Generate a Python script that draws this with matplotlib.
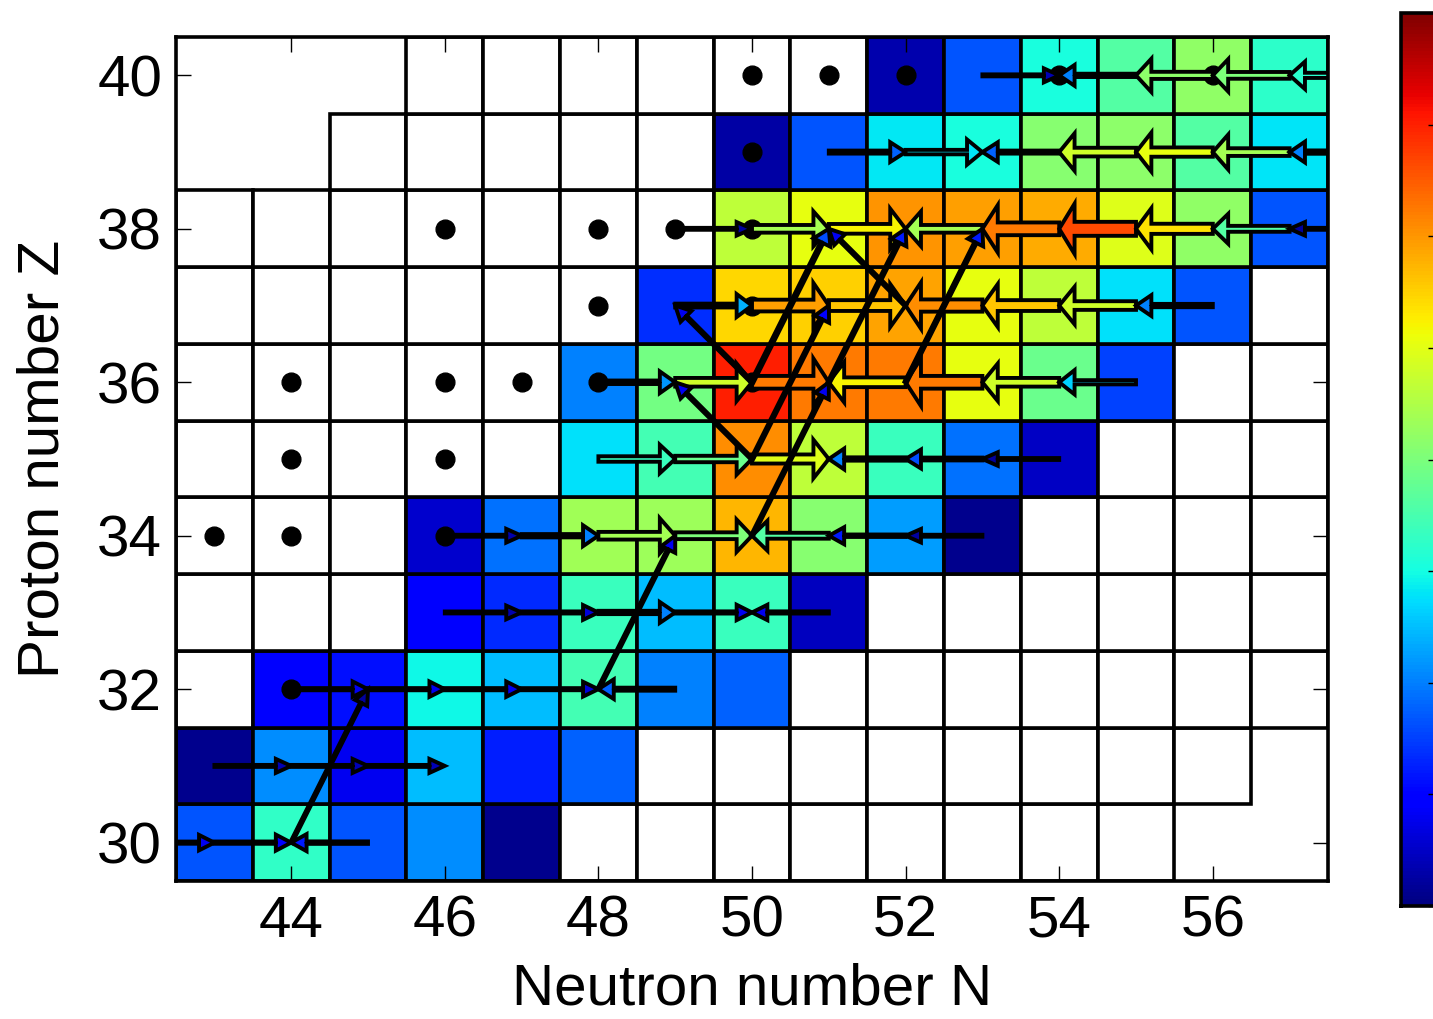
import numpy as np
import matplotlib
matplotlib.use("Agg")
import matplotlib.pyplot as plt
from matplotlib.patches import Rectangle
from matplotlib.colors import Normalize

plt.rcParams['font.family'] = ['Liberation Sans', 'DejaVu Sans']

# nuclide chart: N = 43..57, Z = 30..40
n_axis = list(range(43, 58))
z_axis = list(range(30, 41))
n_first = [43, 43, 43, 43, 43, 43, 43, 43, 43, 45, 46]
n_last = [55, 56, 57, 57, 57, 57, 57, 57, 57, 57, 57]

W = None  # cell in network but no abundance -> white
cell_vals = {
    30: [0.21, 0.41, 0.21, 0.265, 0.015, W, W, W, W, W, W, W, W, W, W],
    31: [0.015, 0.265, 0.10, 0.31, 0.155, 0.22, W, W, W, W, W, W, W, W, W],
    32: [W, 0.115, 0.14, 0.37, 0.31, 0.43, 0.25, 0.22, W, W, W, W, W, W, W],
    33: [W, W, W, 0.12, 0.165, 0.42, 0.31, 0.42, 0.055, W, W, W, W, W, W],
    34: [W, W, W, 0.07, 0.235, 0.545, 0.54, 0.716, 0.515, 0.28, 0.015, W, W, W, W],
    35: [W, W, W, W, W, 0.345, 0.43, 0.76, 0.58, 0.42, 0.235, 0.06, W, W, W],
    36: [W, W, W, W, W, 0.25, 0.49, 0.876, 0.78, 0.78, 0.63, 0.48, 0.19, W, W],
    37: [W, W, W, W, W, W, 0.17, 0.68, 0.69, 0.735, 0.63, 0.58, 0.345, 0.21, W],
    38: [W, W, W, W, W, W, W, 0.58, 0.63, 0.75, 0.74, 0.73, 0.62, 0.525, 0.21],
    39: [W, W, W, W, W, W, W, 0.035, 0.21, 0.355, 0.38, 0.515, 0.52, 0.45, 0.35],
    40: [W, W, W, W, W, W, W, W, W, 0.04, 0.208, 0.38, 0.45, 0.525, 0.405],
}

# stable nuclides (black dots)
stable_N = [50, 51, 52, 54, 56, 50, 46, 48, 49, 50, 48, 50, 44, 46, 47, 48, 50, 44, 46, 43, 44, 46, 44]
stable_Z = [40, 40, 40, 40, 40, 39, 38, 38, 38, 38, 37, 37, 36, 36, 36, 36, 36, 35, 35, 34, 34, 34, 32]

# reaction flows: from (N0, Z0) to (N1, Z1), relative flow strength
flow_N0 = [42, 43, 45, 43, 44, 45, 44, 45, 46, 47, 49, 46, 47, 48, 49, 51,
           46, 47, 48, 49, 51, 52, 53, 48, 49, 50, 52, 53, 54,
           48, 49, 50, 52, 53, 54, 55, 49, 50, 51, 53, 54, 55, 56,
           49, 50, 51, 53, 54, 55, 56, 57, 58, 51, 52, 54, 55, 56, 57, 58,
           53, 55, 56, 57, 58,
           44, 48, 50, 50, 50, 51, 52, 50, 50, 52]
flow_Z0 = [30, 30, 30, 31, 31, 31, 32, 32, 32, 32, 32, 33, 33, 33, 33, 33,
           34, 34, 34, 34, 34, 34, 34, 35, 35, 35, 35, 35, 35,
           36, 36, 36, 36, 36, 36, 36, 37, 37, 37, 37, 37, 37, 37,
           38, 38, 38, 38, 38, 38, 38, 38, 38, 39, 39, 39, 39, 39, 39, 39,
           40, 40, 40, 40, 40,
           30, 32, 34, 35, 36, 36, 36, 36, 35, 37]
flow_N1 = [43, 44, 44, 44, 45, 46, 45, 46, 47, 48, 48, 47, 48, 49, 50, 50,
           47, 48, 49, 50, 50, 51, 52, 49, 50, 51, 51, 52, 53,
           49, 50, 51, 51, 52, 53, 54, 50, 51, 52, 52, 53, 54, 55,
           50, 51, 52, 52, 53, 54, 55, 56, 57, 52, 53, 53, 54, 55, 56, 57,
           54, 54, 55, 56, 57,
           45, 49, 51, 51, 51, 52, 53, 49, 49, 51]
flow_Z1 = [30, 30, 30, 31, 31, 31, 32, 32, 32, 32, 32, 33, 33, 33, 33, 33,
           34, 34, 34, 34, 34, 34, 34, 35, 35, 35, 35, 35, 35,
           36, 36, 36, 36, 36, 36, 36, 37, 37, 37, 37, 37, 37, 37,
           38, 38, 38, 38, 38, 38, 38, 38, 38, 39, 39, 39, 39, 39, 39, 39,
           40, 40, 40, 40, 40,
           32, 34, 36, 37, 38, 38, 38, 37, 36, 38]
flow_val = [0.10, 0.12, 0.15, 0.05, 0.05, 0.05, 0.10, 0.10, 0.10, 0.08, 0.22, 0.04, 0.08, 0.25, 0.10, 0.10,
            0.04, 0.25, 0.55, 0.50, 0.45, 0.15, 0.03, 0.42, 0.48, 0.62, 0.25, 0.20, 0.03,
            0.27, 0.60, 0.78, 0.65, 0.78, 0.60, 0.33, 0.30, 0.74, 0.70, 0.76, 0.70, 0.60, 0.25,
            0.03, 0.55, 0.65, 0.55, 0.78, 0.83, 0.67, 0.45, 0.03, 0.22, 0.35, 0.22, 0.60, 0.63, 0.55, 0.25,
            0.05, 0.25, 0.52, 0.50, 0.40,
            0.03, 0.10, 0.10, 0.12, 0.20, 0.15, 0.15, 0.10, 0.10, 0.10]

cmap = plt.get_cmap('jet')
norm = Normalize(0.0, 1.0)

fig = plt.figure(figsize=(14.33, 10.19), dpi=100)
ax = fig.add_axes([176 / 1433, 138 / 1019, 1152 / 1433, 844 / 1019])

# cells
for i, z in enumerate(z_axis):
    for n in range(n_first[i], n_last[i] + 1):
        v = cell_vals[z][n - 43]
        fc = 'white' if v is None else cmap(norm(v))
        ax.add_patch(Rectangle((n - 0.5, z - 0.5), 1, 1, facecolor=fc,
                               edgecolor='black', lw=2.6, zorder=1))

ax.plot(stable_N, stable_Z, 'o', color='black', markersize=13.5, zorder=2)

# flow arrows
for n0, z0, n1, z1, v in zip(flow_N0, flow_Z0, flow_N1, flow_Z1, flow_val):
    w = 0.025 + 0.22 * v ** 1.8
    hw = 0.17 + 0.62 * v ** 1.3
    ax.arrow(n0, z0, n1 - n0, z1 - z0, width=w, head_width=hw, head_length=0.2,
             length_includes_head=True, fc=cmap(norm(v)), ec='black', lw=2.8, zorder=3)

ax.set_xlim(42.5, 57.5)
ax.set_ylim(29.5, 40.5)
ax.set_xticks(range(44, 57, 2))
ax.set_yticks(range(30, 41, 2))
ax.tick_params(direction='in', length=11, width=1, top=True, right=True,
               labelsize=42, pad=10)
for s in ax.spines.values():
    s.set_linewidth(2.6)
    s.set_zorder(5)
ax.set_xlabel('Neutron number N', fontsize=42)
ax.set_ylabel('Proton number Z', fontsize=42)
ax.xaxis.set_label_coords(0.5, -0.096)
ax.yaxis.set_label_coords(-0.092, 0.5)

# colorbar (its labels lie outside the picture, so none are drawn)
cax = fig.add_axes([1401 / 1433, 113 / 1019, 34 / 1433, 893 / 1019])
cb = matplotlib.colorbar.ColorbarBase(cax, cmap=cmap, norm=norm)
cb.set_ticks(np.arange(0, 1.01, 0.125))
cax.tick_params(direction='in', length=5, width=1, labelright=False)
cb.outline.set_linewidth(2.6)

fig.savefig('out.png', dpi=100)
